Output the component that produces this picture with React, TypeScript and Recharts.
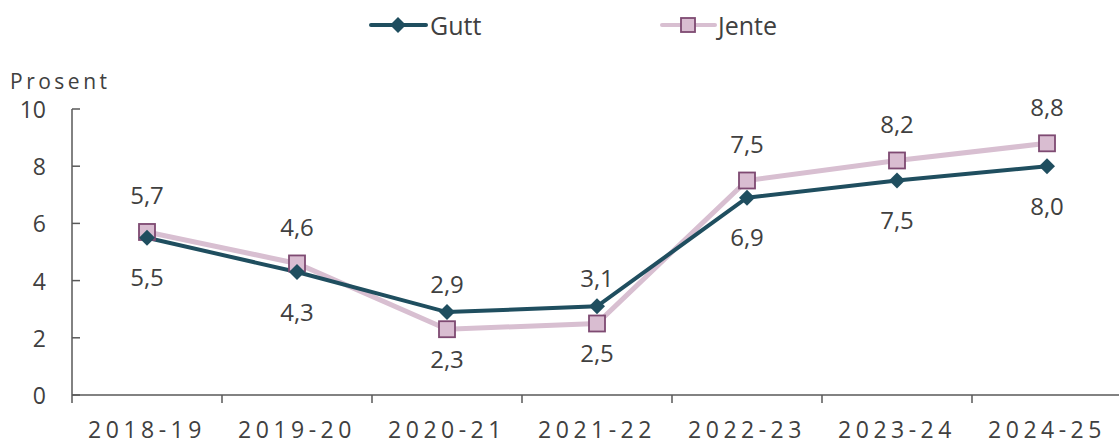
import React from "react";
import { LineChart, Line, XAxis, YAxis, Legend, Label } from "recharts";

const categories = ["2018-19", "2019-20", "2020-21", "2021-22", "2022-23", "2023-24", "2024-25"];
const gutt = [5.5, 4.3, 2.9, 3.1, 6.9, 7.5, 8.0];
const jente = [5.7, 4.6, 2.3, 2.5, 7.5, 8.2, 8.8];
const guttLabelPos = ["below", "below", "above", "above", "below", "below", "below"];
const jenteLabelPos = ["above", "above", "below", "below", "above", "above", "above"];
const yTicks = [0, 2, 4, 6, 8, 10];

const data = categories.map((c, i) => ({ cat: c, gutt: gutt[i], jente: jente[i] }));

const GUTT = "#1F4E5F";
const JENTE_LINE = "#D8BFD1";
const JENTE_FILL = "#D9BDD1";
const JENTE_STROKE = "#7E4A72";
const TEXT = "#404040";
const AXIS = "#595959";
const FONT = "'Open Sans', 'Noto Sans', sans-serif";

const W = 1122;
const H = 444;
const LEFT = 72;
const LEGEND_H = 50;
const halfBand = (W - LEFT) / categories.length / 2;

const fmt = (v: number) => v.toFixed(1).replace(".", ",");

const Diamond = (props: any) => {
  const { cx, cy } = props;
  if (cx == null || cy == null) return null;
  const r = 8;
  return <polygon points={`${cx},${cy - r} ${cx + r},${cy} ${cx},${cy + r} ${cx - r},${cy}`} fill={GUTT} />;
};

const Square = (props: any) => {
  const { cx, cy } = props;
  if (cx == null || cy == null) return null;
  const s = 8;
  return <rect x={cx - s} y={cy - s} width={2 * s} height={2 * s} fill={JENTE_FILL} stroke={JENTE_STROKE} strokeWidth={1.8} />;
};

const makeLabel = (positions: string[], above: number, below: number, vals: number[]) => (props: any) => {
  const { x, y, index } = props;
  const pos = positions[index];
  const dy = pos === "above" ? -above : below;
  return (
    <text x={x} y={y + dy} textAnchor="middle" dominantBaseline="central" fill={TEXT} fontSize={24} fontFamily={FONT}>
      {fmt(vals[index])}
    </text>
  );
};

const XTick = (props: any) => {
  const { x, y, payload, index } = props;
  const axisY = y;
  return (
    <g>
      <line x1={x - halfBand} x2={x - halfBand} y1={axisY} y2={axisY + 8} stroke={AXIS} strokeWidth={1.5} />
      {index === categories.length - 1 && (
        <line x1={x + halfBand} x2={x + halfBand} y1={axisY} y2={axisY + 8} stroke={AXIS} strokeWidth={1.5} />
      )}
      <text x={x} y={axisY + 34} textAnchor="middle" dominantBaseline="central" fill={TEXT} fontSize={23} fontFamily={FONT} letterSpacing={4.5}>
        {payload.value}
      </text>
    </g>
  );
};

const YTick = (props: any) => {
  const { x, y, payload } = props;
  return (
    <g>
      <line x1={LEFT} x2={LEFT + 8} y1={y} y2={y} stroke={AXIS} strokeWidth={1.5} />
      <text x={x} y={y} textAnchor="end" dominantBaseline="central" fill={TEXT} fontSize={23} fontFamily={FONT}>
        {payload.value}
      </text>
    </g>
  );
};

const LegendContent = () => (
  <div style={{ position: "relative", height: LEGEND_H, width: W }}>
    <svg width={W} height={LEGEND_H} style={{ position: "absolute", left: 0, top: 0 }}>
      <line x1={371} x2={426} y1={25} y2={25} stroke={GUTT} strokeWidth={4} strokeLinecap="round" />
      <polygon points={`398,17 406,25 398,33 390,25`} fill={GUTT} />
      <text x={430} y={25} dominantBaseline="central" fill={TEXT} fontSize={25} fontFamily={FONT}>Gutt</text>
      <line x1={662} x2={715} y1={25} y2={25} stroke={JENTE_LINE} strokeWidth={4} strokeLinecap="round" />
      <rect x={681} y={18} width={14} height={14} fill={JENTE_FILL} stroke={JENTE_STROKE} strokeWidth={1.8} />
      <text x={718} y={25} dominantBaseline="central" fill={TEXT} fontSize={25} fontFamily={FONT}>Jente</text>
    </svg>
  </div>
);

export default function App() {
  return (
    <div style={{ position: "absolute", left: 0, top: 0, width: 1119, height: H, overflow: "hidden", background: "#fff" }}>
      <LineChart width={W} height={H} data={data} margin={{ top: 109 - LEGEND_H, right: 0, bottom: 0, left: 0 }}>
        <Legend verticalAlign="top" align="left" height={LEGEND_H} content={<LegendContent />} wrapperStyle={{ left: 0, top: 0 }} />
        <XAxis
          dataKey="cat"
          height={49}
          tick={<XTick />}
          tickLine={false}
          tickSize={0}
          tickMargin={0}
          padding={{ left: halfBand, right: halfBand }}
          axisLine={{ stroke: AXIS, strokeWidth: 1.5 }}
          interval={0}
        />
        <YAxis
          width={LEFT}
          domain={[0, 10]}
          ticks={yTicks}
          tick={<YTick />}
          tickLine={false}
          tickSize={0}
          tickMargin={26}
          axisLine={{ stroke: AXIS, strokeWidth: 1.5 }}
        >
          <Label
            content={(p: any) => (
              <text x={10} y={p.viewBox.y - 28} dominantBaseline="central" fill={TEXT} fontSize={21} fontFamily={FONT} letterSpacing={3.5}>
                Prosent
              </text>
            )}
          />
        </YAxis>
        <Line
          dataKey="jente"
          stroke={JENTE_LINE}
          strokeWidth={5}
          dot={<Square />}
          activeDot={false}
          isAnimationActive={false}
          label={makeLabel(jenteLabelPos, 37, 29, jente)}
        />
        <Line
          dataKey="gutt"
          stroke={GUTT}
          strokeWidth={4}
          dot={<Diamond />}
          activeDot={false}
          isAnimationActive={false}
          label={makeLabel(guttLabelPos, 29, 39, gutt)}
        />
      </LineChart>
    </div>
  );
}
